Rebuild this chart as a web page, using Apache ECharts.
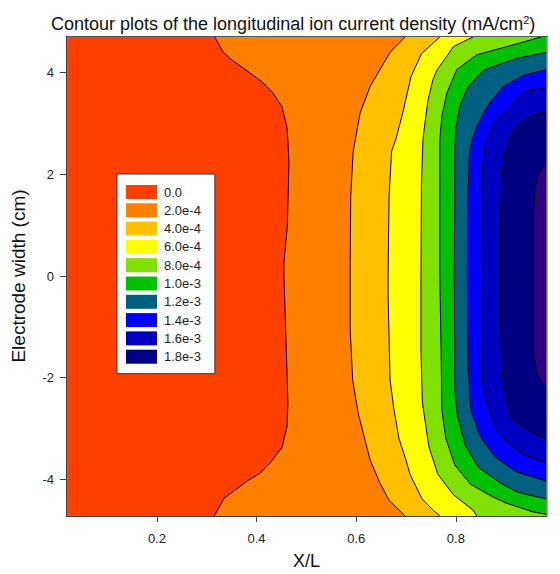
<!DOCTYPE html>
<html><head><meta charset="utf-8">
<script src="https://cdn.jsdelivr.net/npm/echarts@6/dist/echarts.min.js"></script>
<style>html,body{margin:0;padding:0;background:#fff}#c{width:560px;height:574px}</style>
</head><body><div id="c"></div>
<script>
// Axis extents and ticks
const xRange = [0.0175, 0.983];
const yRange = [-4.72, 4.72];
const xTicks = [0.2, 0.4, 0.6, 0.8];
const yTicks = [-4, -2, 0, 2, 4];

// Contour levels (mA/cm^2)
const levelNames = ['0.0','2.0e-4','4.0e-4','6.0e-4','8.0e-4','1.0e-3','1.2e-3','1.4e-3','1.6e-3','1.8e-3','2.0e-3'];
const levelColors = ['#ff4000','#ff8000','#ffc000','#ffff00','#80e000','#00c000','#006080','#0000ff','#0000c0','#000080','#300080'];

// Contour boundaries [X/L, width(cm)], from top to bottom
const bound0 = [[0.0175,4.72],[0.0175,-4.72]];
const bound1 = [[0.315,4.72],[0.333,4.40],[0.353,4.23],[0.383,4.02],[0.411,3.82],[0.433,3.60],[0.451,3.33],[0.461,2.93],[0.463,2.67],[0.465,2.22],[0.462,1.00],[0.455,0.26],[0.455,0.00],[0.461,-1.85],[0.463,-2.50],[0.461,-2.97],[0.451,-3.37],[0.427,-3.68],[0.407,-3.88],[0.383,-4.02],[0.357,-4.21],[0.335,-4.37],[0.315,-4.72]];
const bound2 = [[0.700,4.72],[0.668,4.40],[0.628,3.73],[0.608,3.21],[0.594,2.45],[0.589,1.56],[0.588,0.26],[0.588,-1.06],[0.593,-2.05],[0.604,-2.70],[0.628,-3.62],[0.648,-4.08],[0.666,-4.41],[0.698,-4.72]];
const bound3 = [[0.770,4.72],[0.731,4.37],[0.710,3.92],[0.694,3.23],[0.680,2.70],[0.671,2.45],[0.666,1.56],[0.664,0.00],[0.664,-0.40],[0.668,-2.05],[0.676,-2.64],[0.686,-3.20],[0.700,-3.62],[0.708,-3.90],[0.732,-4.38],[0.755,-4.61],[0.768,-4.72]];
const bound4 = [[0.838,4.72],[0.795,4.51],[0.782,4.32],[0.762,4.05],[0.754,3.86],[0.744,3.45],[0.737,2.93],[0.734,2.68],[0.731,1.80],[0.730,0.00],[0.730,-1.50],[0.733,-2.50],[0.746,-3.36],[0.764,-3.90],[0.795,-4.30],[0.835,-4.61],[0.842,-4.72]];
const bound5 = [[0.978,4.72],[0.902,4.51],[0.842,4.35],[0.802,4.06],[0.782,3.60],[0.772,3.14],[0.768,2.68],[0.768,0.00],[0.771,-1.85],[0.772,-2.64],[0.780,-3.20],[0.798,-3.72],[0.830,-4.10],[0.875,-4.35],[0.902,-4.47],[0.955,-4.64],[0.983,-4.69]];
const bound6 = [[0.983,4.40],[0.922,4.28],[0.856,4.05],[0.824,3.71],[0.808,3.34],[0.800,2.90],[0.798,2.50],[0.797,0.00],[0.798,-2.24],[0.803,-2.74],[0.819,-3.33],[0.845,-3.76],[0.889,-4.07],[0.923,-4.25],[0.983,-4.39]];
const bound7 = [[0.983,4.06],[0.937,3.95],[0.895,3.72],[0.866,3.38],[0.844,2.98],[0.832,2.65],[0.827,2.38],[0.824,1.50],[0.823,0.00],[0.825,-1.85],[0.830,-2.64],[0.849,-3.16],[0.879,-3.56],[0.921,-3.85],[0.983,-4.04]];
const bound8 = [[0.983,3.70],[0.940,3.63],[0.907,3.33],[0.878,3.00],[0.860,2.65],[0.853,2.10],[0.852,0.00],[0.853,-2.05],[0.863,-2.54],[0.881,-2.99],[0.905,-3.29],[0.937,-3.52],[0.983,-3.68]];
const bound9 = [[0.983,3.23],[0.955,3.17],[0.929,3.00],[0.912,2.80],[0.899,2.42],[0.893,2.00],[0.890,1.30],[0.890,-0.87],[0.892,-1.85],[0.902,-2.44],[0.912,-2.80],[0.929,-2.92],[0.956,-3.10],[0.983,-3.20]];
const bound10 = [[0.983,2.22],[0.966,2.02],[0.959,1.69],[0.956,1.24],[0.956,-0.50],[0.956,-1.52],[0.963,-1.91],[0.973,-2.11],[0.983,-2.20]];

const boundaries = [bound0,bound1,bound2,bound3,bound4,bound5,bound6,bound7,bound8,bound9,bound10];

const FONT = '"Liberation Sans", Arial, Helvetica, sans-serif';

function makeRender(k) {
  return function (params, api) {
    if (params.dataIndex !== 0) return;
    const pts = boundaries[k];
    const line = pts.map(p => api.coord(p));
    const poly = line.slice();
    const first = pts[0], last = pts[pts.length - 1];
    if (last[0] < xRange[1]) poly.push(api.coord([xRange[1], yRange[0]]));
    if (first[0] < xRange[1]) poly.push(api.coord([xRange[1], yRange[1]]));
    const children = [{
      type: 'polygon',
      shape: { points: poly },
      style: { fill: levelColors[k], stroke: null }
    }];
    if (k > 0) {
      children.push({
        type: 'polyline',
        shape: { points: line },
        style: { fill: null, stroke: '#000', lineWidth: 1 }
      });
    }
    return { type: 'group', children: children };
  };
}

const series = boundaries.map((b, k) => ({
  type: 'custom',
  name: levelNames[k],
  coordinateSystem: 'cartesian2d',
  xAxisIndex: 0, yAxisIndex: 0,
  data: b,
  encode: { x: 0, y: 1 },
  itemStyle: { color: levelColors[k] },
  renderItem: makeRender(k),
  silent: true,
  animation: false,
  clip: true,
  z: 2
}));

const chart = echarts.init(document.getElementById('c'), null, { renderer: 'svg' });
chart.setOption({
  animation: false,
  backgroundColor: '#fff',
  title: {
    text: '{t|Contour plots of the longitudinal ion current density (mA/cm}{s|2}{t|)}',
    left: 46, top: 9,
    textStyle: {
      rich: {
        t: { fontSize: 18, color: '#111', fontFamily: FONT, fontWeight: 'normal' },
        s: { fontSize: 11, color: '#111', fontFamily: FONT, fontWeight: 'normal', verticalAlign: 'top', padding: [0, 0, 9, 0] }
      }
    }
  },
  grid: { left: 66, right: 13, top: 36, bottom: 58, containLabel: false, outerBoundsMode: 'none' },
  legend: {
    data: levelNames.slice(0, 10),
    orient: 'vertical',
    left: 117, top: 174,
    padding: [11, 14, 10, 9],
    itemWidth: 31, itemHeight: 14, itemGap: 4.3,
    icon: 'rect',
    selectedMode: false,
    backgroundColor: '#fff',
    borderColor: '#333', borderWidth: 1,
    textStyle: { fontSize: 13, color: '#222', fontFamily: FONT, padding: [0, 0, 0, 2] },
    z: 20
  },
  xAxis: [{
    type: 'value', min: xRange[0], max: xRange[1],
    name: 'X/L', nameLocation: 'middle', nameGap: 36,
    nameTextStyle: { fontSize: 18, lineHeight: 18, color: '#111', fontFamily: FONT },
    axisLine: { show: true, onZero: false, lineStyle: { color: '#444', width: 1 } },
    axisTick: { show: true, length: 6, customValues: xTicks, lineStyle: { color: '#444' } },
    axisLabel: { customValues: xTicks, fontSize: 13, color: '#222', fontFamily: FONT, margin: 16, formatter: v => v.toFixed(1) },
    splitLine: { show: false },
    z: 10
  }, {
    type: 'value', position: 'top', min: xRange[0], max: xRange[1],
    axisLine: { show: true, onZero: false, lineStyle: { color: '#555', width: 1 } },
    axisTick: { show: false }, axisLabel: { show: false }, splitLine: { show: false },
    z: 10
  }],
  yAxis: [{
    type: 'value', min: yRange[0], max: yRange[1],
    name: 'Electrode width (cm)', nameLocation: 'middle', nameGap: 38,
    nameTextStyle: { fontSize: 19, color: '#111', fontFamily: FONT },
    axisLine: { show: true, onZero: false, lineStyle: { color: '#444', width: 1 } },
    axisTick: { show: true, length: 6, customValues: yTicks, lineStyle: { color: '#444' } },
    axisLabel: { customValues: yTicks, fontSize: 13, color: '#222', fontFamily: FONT, margin: 12, formatter: v => String(v) },
    splitLine: { show: false },
    z: 10
  }, {
    type: 'value', position: 'right', min: yRange[0], max: yRange[1],
    axisLine: { show: true, onZero: false, lineStyle: { color: '#888', width: 1.5 } },
    axisTick: { show: false }, axisLabel: { show: false }, splitLine: { show: false },
    z: 10
  }],
  series: series
});
</script>
</body></html>
